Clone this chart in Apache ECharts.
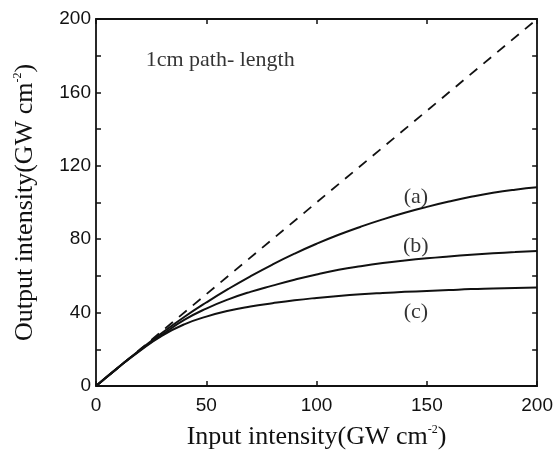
<!DOCTYPE html>
<html>
<head>
<meta charset="utf-8">
<script src="https://cdn.jsdelivr.net/npm/echarts@6/dist/echarts.min.js"></script>
<style>
  html, body { margin: 0; padding: 0; background: #fff; }
  #chart { width: 556px; height: 459px; }
</style>
</head>
<body>
<div id="chart"></div>
<script>
// input intensity (GW cm-2)
var inputX = [0, 10, 20, 30, 40, 50, 60, 70, 80, 90, 100, 110, 120, 130, 140, 150, 160, 170, 180, 190, 200];
// output intensity for the three curves
var curveA = [0, 10, 19.8, 29, 37.6, 45.5, 52.9, 59.8, 66.2, 72.1, 77.5, 82.4, 86.8, 90.8, 94.4, 97.6, 100.5, 103.1, 105.3, 107, 108.3];
var curveB = [0, 10, 19.5, 28, 36, 42.2, 47.2, 51.3, 54.7, 57.9, 60.8, 63.3, 65.3, 67, 68.4, 69.6, 70.6, 71.5, 72.3, 73, 73.6];
var curveC = [0, 10, 19.3, 27.5, 33.6, 37.8, 41, 43.3, 45.1, 46.7, 48, 49.1, 50, 50.7, 51.3, 51.8, 52.3, 52.8, 53.1, 53.4, 53.7];
// linear (no absorption) reference
var linearX = [0, 200];
var linearY = [0, 200];
var xTicks = [0, 50, 100, 150, 200];
var yLabels = [0, 40, 80, 120, 160, 200];
var curveNames = ['(a)', '(b)', '(c)'];
var noteText = '1cm path- length';

function pairs(xs, ys) {
  var out = [];
  for (var i = 0; i < xs.length; i++) out.push([xs[i], ys[i]]);
  return out;
}

var serif = '"Liberation Serif", "DejaVu Serif", serif';
var sans = '"Liberation Sans", Arial, sans-serif';
var supStyle = { fontSize: 12, fontFamily: serif, color: '#111', padding: [0, 0, 14, 0] };

var chart = echarts.init(document.getElementById('chart'));
var lineStyle = { color: '#111', width: 2 };

chart.setOption({
  backgroundColor: '#fff',
  animation: false,
  grid: { left: 96, right: 18, top: 19, bottom: 73 },
  xAxis: [{
    type: 'value', min: 0, max: 200, interval: 50,
    name: 'Input intensity(GW cm{sup|-2})',
    nameLocation: 'middle', nameGap: 38,
    nameTextStyle: { fontFamily: serif, fontSize: 26, color: '#111', rich: { sup: supStyle } },
    axisLine: { lineStyle: { color: '#111', width: 1.8 } },
    axisTick: { inside: true, length: 5, lineStyle: { color: '#111', width: 1.5 } },
    axisLabel: {
      margin: 10, fontFamily: sans, fontSize: 19, color: '#111',
      formatter: function (v) { return xTicks.indexOf(v) >= 0 ? String(v) : ''; }
    },
    splitLine: { show: false }
  }, {
    type: 'value', position: 'top', min: 0, max: 200, interval: 50,
    axisLine: { show: true, onZero: false, lineStyle: { color: '#111', width: 1.8 } },
    axisTick: { inside: true, length: 5, lineStyle: { color: '#111', width: 1.5 } },
    axisLabel: { show: false }, splitLine: { show: false }
  }],
  yAxis: [{
    type: 'value', min: 0, max: 200, interval: 20,
    name: 'Output intensity(GW cm{sup|-2})',
    nameLocation: 'middle', nameGap: 58,
    nameTextStyle: { fontFamily: serif, fontSize: 26, color: '#111', rich: { sup: supStyle } },
    axisLine: { show: true, lineStyle: { color: '#111', width: 1.8 } },
    axisTick: { show: true, inside: true, length: 5, lineStyle: { color: '#111', width: 1.5 } },
    axisLabel: {
      margin: 5, fontFamily: sans, fontSize: 19, color: '#111',
      formatter: function (v) { return yLabels.indexOf(v) >= 0 ? String(v) : ''; }
    },
    splitLine: { show: false }
  }, {
    type: 'value', position: 'right', min: 0, max: 200, interval: 20,
    axisLine: { show: true, onZero: false, lineStyle: { color: '#111', width: 1.8 } },
    axisTick: { show: true, inside: true, length: 5, lineStyle: { color: '#111', width: 1.5 } },
    axisLabel: { show: false }, splitLine: { show: false }
  }],
  series: [
    {
      type: 'line', data: pairs(linearX, linearY), showSymbol: false,
      lineStyle: { color: '#111', width: 1.8, type: [10, 8] }, z: 1
    },
    { type: 'line', data: pairs(inputX, curveA), smooth: true, showSymbol: false, lineStyle: lineStyle },
    { type: 'line', data: pairs(inputX, curveB), smooth: true, showSymbol: false, lineStyle: lineStyle },
    { type: 'line', data: pairs(inputX, curveC), smooth: true, showSymbol: false, lineStyle: lineStyle },
    {
      type: 'scatter', symbolSize: 0, silent: true, itemStyle: { color: '#000' },
      label: {
        show: true, position: 'inside', fontFamily: serif, fontSize: 22, color: '#000',
        formatter: function (p) { return p.data.text; }
      },
      data: [
        { value: [145, 103], text: curveNames[0] },
        { value: [145, 76.3], text: curveNames[1] },
        { value: [145, 40.4], text: curveNames[2] }
      ]
    },
    {
      type: 'scatter', symbolSize: 0, silent: true, itemStyle: { color: '#000' },
      label: {
        show: true, position: 'right', distance: 0, fontFamily: serif, fontSize: 22, color: '#000',
        formatter: function () { return noteText; }
      },
      data: [[22.5, 177.5]]
    }
  ]
});
</script>
</body>
</html>
